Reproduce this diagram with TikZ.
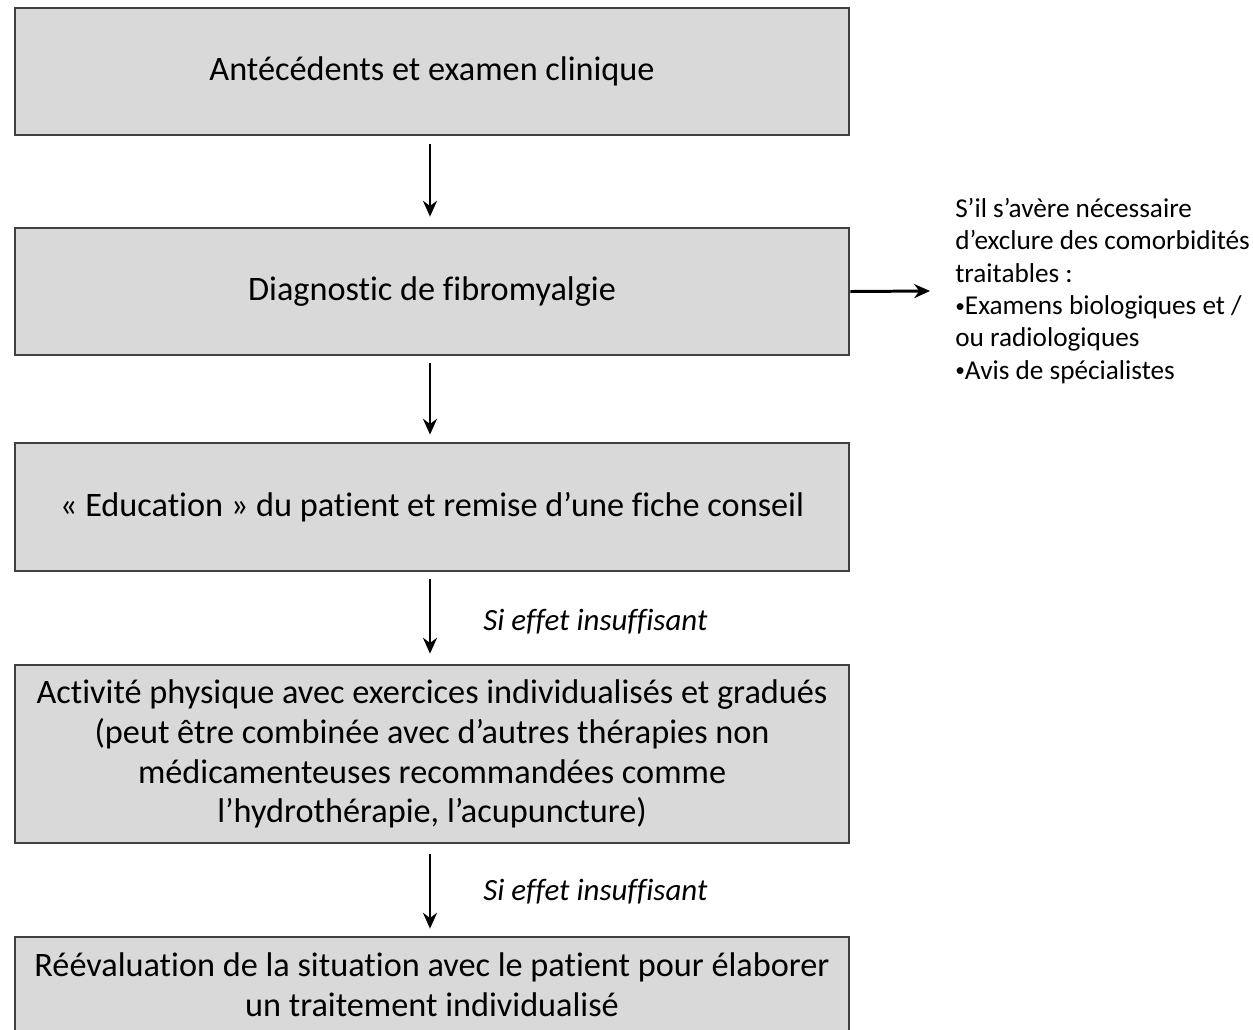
\documentclass[tikz,border=0pt]{standalone}
\usepackage{fontspec}
\setmainfont{Carlito}[Ligatures=NoCommon]
\usepackage{tikz}
\usetikzlibrary{arrows.meta,positioning}
\definecolor{boxgray}{HTML}{D9D9D9}
\definecolor{edgegray}{HTML}{404040}
\newcommand{\notebul}{{\fontsize{11}{11}\selectfont\raisebox{0.12em}{•}}}

\begin{document}
\begin{tikzpicture}[x=0.02cm, y=-0.02cm,
    stepbox/.style={draw=edgegray, line width=1.6pt, fill=boxgray, minimum width=834*0.02cm,
      align=center, inner sep=0pt, font=\fontsize{19.5}{22.7}\selectfont},
    flow/.style={line width=1.3pt, -{Stealth[length=9pt,width=8pt]}},
    cond/.style={anchor=west, inner sep=0pt, font=\fontsize{17.6}{18.4}\selectfont\itshape}]
  \useasboundingbox (0,0) rectangle (1253,1029);
  % Main steps
  \node[stepbox, minimum height=127*0.02cm] (hist) at (432,71.5) {Antécédents et examen clinique};
  \node[stepbox, minimum height=127*0.02cm] (diag) at (432,291.5) {Diagnostic de fibromyalgie};
  \node[stepbox, minimum height=128*0.02cm] (educ) at (432,507) {« Education » du patient et remise d’une fiche conseil};
  \node[stepbox, minimum height=178*0.02cm] (acti) at (432,754) {Activité physique avec exercices individualisés et gradués\\
    (peut être combinée avec d’autres thérapies non\\ médicamenteuses recommandées comme\\ l’hydrothérapie, l’acupuncture)};
  \node[stepbox, minimum height=96*0.02cm] (reev) at (432,985) {Réévaluation de la situation avec le patient pour élaborer\\ un traitement individualisé};
  % Arrows
  \draw[flow] ([yshift=-8*0.02cm]hist.south -| 430,0) -- ([yshift=10*0.02cm]diag.north -| 430,0);
  \draw[flow] ([yshift=-7*0.02cm]diag.south -| 430,0) -- ([yshift=7*0.02cm]educ.north -| 430,0);
  \draw[flow] ([yshift=-7*0.02cm]educ.south -| 430,0) -- ([yshift=10*0.02cm]acti.north -| 430,0);
  \draw[flow] ([yshift=-10*0.02cm]acti.south -| 430,0) -- ([yshift=7*0.02cm]reev.north -| 430,0);
  \node[cond] (cond1) at (483,622) {Si effet insuffisant};
  \node[cond] (cond2) at (483,892) {Si effet insuffisant};
  % Side note
  \coordinate (side) at (930,291);
  \draw[flow, line width=1.7pt] (diag.east) -- (side);
  \node[anchor=north west, inner sep=0pt, align=left, font=\fontsize{15.5}{18.4}\selectfont] (note) at (955,198)
    {S’il s’avère nécessaire\\ d’exclure des comorbidités\\ traitables :\\ \notebul Examens biologiques et /\\ ou radiologiques\\ \notebul Avis de spécialistes};
\end{tikzpicture}
\end{document}
